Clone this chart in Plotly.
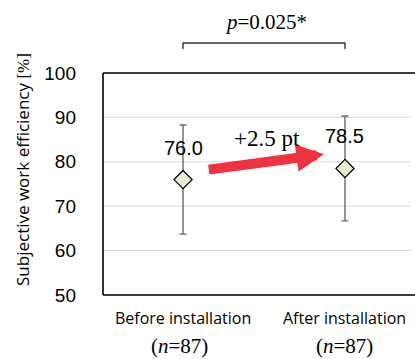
import plotly.graph_objects as go

# Survey results: subjective work efficiency before / after installation
categories = ["Before installation", "After installation"]
means = [76.0, 78.5]
sds = [12.3, 11.8]
n_counts = [87, 87]
p_value = 0.025
y_ticks = [50, 60, 70, 80, 90, 100]

xs = list(range(len(categories)))
diff = means[1] - means[0]

SERIF = "Liberation Serif, Times New Roman, serif"
SANS = "Liberation Sans, Arial, sans-serif"
HUMAN = "Open Sans, sans-serif"

fig = go.Figure()

fig.add_trace(go.Scatter(
    x=xs, y=means, mode="markers",
    marker=dict(symbol="diamond", size=14, color="#E6EBD2",
                line=dict(color="#000000", width=1.2)),
    error_y=dict(type="data", array=sds, visible=True,
                 color="#6a6a6a", thickness=1.4, width=3.5),
    showlegend=False, hoverinfo="skip", cliponaxis=False,
))

annotations = []

# value labels above each point
for x, m in zip(xs, means):
    annotations.append(dict(
        x=x, y=m, xref="x", yref="y", text=f"{m:.1f}", showarrow=False,
        font=dict(family=SANS, size=20, color="#000"),
        yanchor="middle", yshift=32,
    ))

# red arrow showing the change
annotations.append(dict(
    x=0.87, y=means[1] + 3.2, ax=0.15, ay=means[0] + 2.2,
    xref="x", yref="y", axref="x", ayref="y",
    text="", showarrow=True, arrowhead=2, arrowsize=0.55,
    arrowwidth=10, arrowcolor="#EE3340", standoff=0, startstandoff=0,
))
annotations.append(dict(
    x=0.5, y=(means[0] + means[1]) / 2, xref="x", yref="y",
    text=f"+{diff:.1f} pt", showarrow=False,
    font=dict(family=SERIF, size=23, color="#000"),
    yanchor="middle", xshift=3, yshift=36,
))

# significance label above bracket
annotations.append(dict(
    x=0.5, y=1, xref="x", yref="paper",
    text=f"<i>p</i>={p_value:.3f}*", showarrow=False,
    font=dict(family=SERIF, size=21, color="#000"),
    yanchor="middle", xshift=2, yshift=51,
))

# category labels with sample sizes
for x, cat, n in zip(xs, categories, n_counts):
    annotations.append(dict(
        x=x, y=0, xref="x", yref="paper", text=cat, showarrow=False,
        font=dict(family=HUMAN, size=16, color="#000"),
        yanchor="middle", yshift=-23,
    ))
    annotations.append(dict(
        x=x, y=0, xref="x", yref="paper", text=f"(<i>n</i>={n})",
        showarrow=False, font=dict(family=SERIF, size=21, color="#000"),
        yanchor="middle", yshift=-51, xshift=-4 if x == 0 else 0,
    ))

# y-axis title
annotations.append(dict(
    x=0, y=0.5, xref="paper", yref="paper",
    text="Subjective work efficiency <span style='font-family:Liberation Serif'>[%]</span>",
    showarrow=False, textangle=-90,
    font=dict(family=HUMAN, size=17, color="#000"),
    xanchor="center", yanchor="middle", xshift=-81, yshift=14,
))

shapes = []

# horizontal gridlines running out to the right edge of the figure
for v in y_ticks[1:-1]:
    shapes.append(dict(type="line", xref="paper", yref="y", x0=0, x1=1.2,
                       y0=v, y1=v, layer="below",
                       line=dict(color="#d9d9d9", width=1)))

# frame: left, top and bottom edges of the plotting area
frame = dict(color="#000000", width=1.6)
shapes += [
    dict(type="line", xref="paper", yref="paper", x0=0, x1=0, y0=0, y1=1, line=frame),
    dict(type="line", xref="paper", yref="paper", x0=0, x1=1.2, y0=1, y1=1, line=frame),
    dict(type="line", xref="paper", yref="paper", x0=0, x1=1.2, y0=0, y1=0, line=frame),
]

# keep the open right side of the frame clean
shapes.append(dict(type="rect", xref="paper", yref="paper",
                   x0=1.09, x1=1.2, y0=0.006, y1=0.994, layer="above",
                   fillcolor="white", line=dict(width=0)))

# bracket between the two groups
shapes.append(dict(
    type="path", xref="x", yref="paper",
    path=f"M {xs[0]},1.108 L {xs[0]},1.135 L {xs[1]},1.135 L {xs[1]},1.108",
    line=dict(color="#333333", width=1.4),
))

fig.update_layout(
    width=415, height=359,
    margin=dict(l=103, r=30, t=73, b=64),
    paper_bgcolor="white", plot_bgcolor="white",
    annotations=annotations, shapes=shapes,
    hovermode=False, dragmode=False,
    xaxis=dict(range=[-0.494, 1.247], showticklabels=False, showgrid=False,
               zeroline=False, showline=False, ticks="", fixedrange=True),
    yaxis=dict(range=[50, 100], tickvals=y_ticks, showgrid=False,
               zeroline=False, showline=False, ticks="", ticklabelstandoff=26,
               fixedrange=True,
               tickfont=dict(family=SANS, size=19, color="#000")),
)

fig.write_html("out.html", config=dict(staticPlot=True, displayModeBar=False))
